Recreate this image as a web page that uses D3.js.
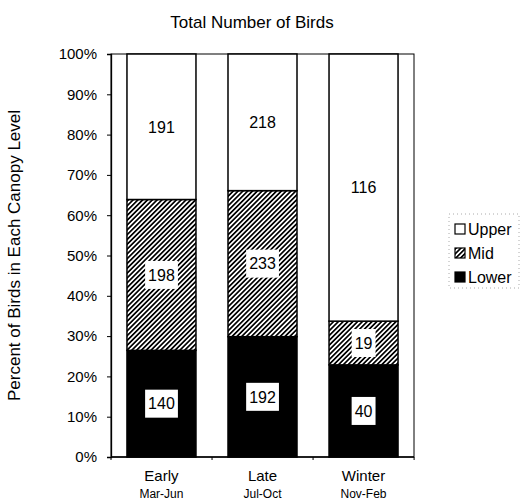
<!DOCTYPE html>
<html>
<head>
<meta charset="utf-8">
<script src="https://cdn.jsdelivr.net/npm/d3@7"></script>
<style>
  body { margin: 0; background: #fff; }
  text { font-family: "Liberation Sans", Arial, sans-serif; fill: #000; }
</style>
</head>
<body>
<div id="chart"></div>
<script>
// counts
var categories = ["Early", "Late", "Winter"];
var subLabels = ["Mar-Jun", "Jul-Oct", "Nov-Feb"];
var levels = ["Lower", "Mid", "Upper"];
var lowerCounts = [140, 192, 40];
var midCounts = [198, 233, 19];
var upperCounts = [191, 218, 116];
var legendOrder = ["Upper", "Mid", "Lower"];

var W = 520, H = 500;
var plot = {left: 111, right: 414, top: 54, bottom: 457};

var svg = d3.select("#chart").append("svg")
  .attr("width", W).attr("height", H);

var defs = svg.append("defs");
var hatch = defs.append("pattern")
  .attr("id", "hatch")
  .attr("patternUnits", "userSpaceOnUse")
  .attr("width", 3.4).attr("height", 3.4)
  .attr("patternTransform", "rotate(45)");
hatch.append("rect").attr("width", 3.4).attr("height", 3.4).attr("fill", "#fff");
hatch.append("line")
  .attr("x1", 0.85).attr("y1", 0).attr("x2", 0.85).attr("y2", 3.4)
  .attr("stroke", "#000").attr("stroke-width", 1.7);

var rows = categories.map(function(c, i) {
  return {cat: c, Lower: lowerCounts[i], Mid: midCounts[i], Upper: upperCounts[i]};
});
var series = d3.stack().keys(levels).offset(d3.stackOffsetExpand)(rows);

var x = d3.scaleBand().domain(categories)
  .range([plot.left, plot.right])
  .paddingInner(0.317).paddingOuter(0.158);
var y = d3.scaleLinear().domain([0, 1]).range([plot.bottom, plot.top]);

var fills = {Lower: "#000", Mid: "url(#hatch)", Upper: "#fff"};

// plot frame
svg.append("rect")
  .attr("x", plot.left).attr("y", plot.top)
  .attr("width", plot.right - plot.left).attr("height", plot.bottom - plot.top)
  .attr("fill", "none").attr("stroke", "#000").attr("stroke-width", 1);

// bars
var layer = svg.append("g").selectAll("g").data(series).enter().append("g");
layer.selectAll("rect").data(function(s) { return s.map(function(d) { d.key = s.key; return d; }); })
  .enter().append("rect")
  .attr("x", function(d) { return x(d.data.cat); })
  .attr("y", function(d) { return y(d[1]); })
  .attr("width", x.bandwidth())
  .attr("height", function(d) { return y(d[0]) - y(d[1]); })
  .attr("fill", function(d) { return fills[d.key]; })
  .attr("stroke", "#000").attr("stroke-width", 1.5);

// value labels in white boxes
var labels = svg.append("g").selectAll("g")
  .data(series.flatMap(function(s) { return s; }))
  .enter().append("g")
  .attr("transform", function(d) {
    return "translate(" + (x(d.data.cat) + x.bandwidth() / 2) + "," + y((d[0] + d[1]) / 2) + ")";
  });
labels.append("text")
  .attr("text-anchor", "middle").attr("dy", "0.36em")
  .attr("font-size", "16px")
  .text(function(d) { return d.data[d.key]; })
  .each(function() {
    var b = this.getBBox();
    d3.select(this.parentNode).insert("rect", "text")
      .attr("x", b.x - 3).attr("y", -14)
      .attr("width", b.width + 6).attr("height", 28)
      .attr("fill", "#fff");
  });

// y axis
var yAxis = svg.append("g")
  .attr("transform", "translate(" + plot.left + ",0)")
  .call(d3.axisLeft(y).ticks(10).tickFormat(d3.format(".0%")).tickSize(4).tickPadding(10));
yAxis.selectAll("text").attr("font-size", "15px").attr("font-family", "Liberation Sans, Arial, sans-serif");
yAxis.selectAll("line, path").attr("stroke", "#000");
yAxis.select(".domain").attr("stroke-width", 1.3);

// x axis with ticks between categories
svg.append("line")
  .attr("x1", plot.left).attr("x2", plot.right)
  .attr("y1", plot.bottom).attr("y2", plot.bottom)
  .attr("stroke", "#000").attr("stroke-width", 1.3);
svg.append("g").selectAll("line")
  .data(d3.range(categories.length + 1))
  .enter().append("line")
  .attr("x1", function(i) { return plot.left + i * x.step(); })
  .attr("x2", function(i) { return plot.left + i * x.step(); })
  .attr("y1", plot.bottom).attr("y2", plot.bottom + 3)
  .attr("stroke", "#000");

var xl = svg.append("g").selectAll("g").data(categories).enter().append("g");
xl.append("text")
  .attr("x", function(d) { return x(d) + x.bandwidth() / 2; })
  .attr("y", 481).attr("text-anchor", "middle").attr("font-size", "15px")
  .text(function(d) { return d; });
xl.append("text")
  .attr("x", function(d) { return x(d) + x.bandwidth() / 2; })
  .attr("y", 498).attr("text-anchor", "middle").attr("font-size", "12px")
  .text(function(d, i) { return subLabels[i]; });

// titles
svg.append("text")
  .attr("x", 252).attr("y", 28).attr("text-anchor", "middle").attr("font-size", "17px")
  .text("Total Number of Birds");
svg.append("text")
  .attr("transform", "translate(20," + ((plot.top + plot.bottom) / 2) + ") rotate(-90)")
  .attr("text-anchor", "middle").attr("font-size", "17px")
  .text("Percent of Birds in Each Canopy Level");

// legend
var legend = svg.append("g").attr("transform", "translate(455,224)");
legend.append("rect")
  .attr("x", -6).attr("y", -10).attr("width", 70).attr("height", 74)
  .attr("fill", "none").attr("stroke", "#aaa").attr("stroke-dasharray", "1,3");
var li = legend.selectAll("g").data(legendOrder).enter().append("g")
  .attr("transform", function(d, i) { return "translate(0," + (i * 24) + ")"; });
li.append("rect")
  .attr("width", 10).attr("height", 10)
  .attr("fill", function(d) { return fills[d]; })
  .attr("stroke", "#000").attr("stroke-width", 1.2);
li.append("text")
  .attr("x", 13).attr("y", 5).attr("dy", "0.36em").attr("font-size", "16px")
  .text(function(d) { return d; });
</script>
</body>
</html>
